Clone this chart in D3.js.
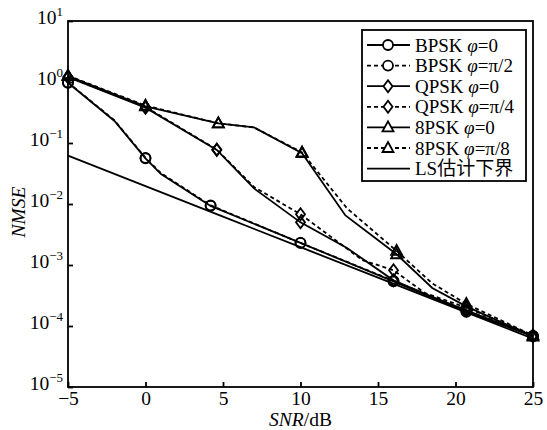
<!DOCTYPE html>
<html>
<head>
<meta charset="utf-8">
<script src="https://cdn.jsdelivr.net/npm/d3@7"></script>
<style>
  html, body { margin: 0; padding: 0; background: #fff; }
  svg { display: block; }
  text { font-family: "Liberation Serif", "Times New Roman", "Noto Sans CJK SC", serif; fill: #000; }
</style>
</head>
<body>
<svg id="chart" width="547" height="430"></svg>
<script>
// SNR grid (dB) and NMSE values for each curve
const snrBPSK0   = [-5, -2, 0, 1, 4.2, 10, 16, 20.7, 25];
const nmseBPSK0  = [0.97, 0.23, 0.056, 0.031, 0.0093, 0.0023, 0.00054, 0.00017, 6.8e-5];
const markBPSK0  = [0, 2, 4, 5, 6, 7, 8];

const snrBPSK90  = [-5, -2, 0, 1, 4.2, 10, 16, 20.7, 25];
const nmseBPSK90 = [0.98, 0.235, 0.057, 0.032, 0.0095, 0.0023, 0.00055, 0.00018, 6.9e-5];
const markBPSK90 = [0, 2, 4, 5, 6, 7, 8];

const snrQPSK0   = [-5, 0, 4.6, 7, 10, 13, 16, 18.5, 20.7, 25];
const nmseQPSK0  = [1.2, 0.38, 0.077, 0.018, 0.0050, 0.0019, 0.00056, 0.0003, 0.00018, 6.8e-5];
const markQPSK0  = [0, 1, 2, 4, 6, 8, 9];

const snrQPSK45  = [-5, 0, 4.6, 7, 10, 14, 16, 18, 20.7, 25];
const nmseQPSK45 = [1.22, 0.39, 0.078, 0.019, 0.0068, 0.0012, 0.00082, 0.00035, 0.0002, 7e-5];
const markQPSK45 = [0, 1, 2, 4, 6, 8, 9];

const snr8PSK0   = [-5, 0, 4.7, 7, 10.1, 12.9, 16.2, 18.5, 20.7, 25];
const nmse8PSK0  = [1.25, 0.40, 0.21, 0.18, 0.068, 0.0065, 0.0015, 0.00042, 0.00021, 6.7e-5];
const mark8PSK0  = [0, 1, 2, 4, 6, 8, 9];

const snr8PSK22  = [-5, 0, 4.7, 7, 10.1, 13, 16.2, 18.5, 20.7, 25];
const nmse8PSK22 = [1.27, 0.41, 0.21, 0.18, 0.070, 0.0085, 0.0017, 0.0005, 0.00023, 7e-5];
const mark8PSK22 = [0, 1, 2, 4, 6, 8, 9];

const snrLS  = [-5, 0, 5, 10, 15, 20, 25];
const nmseLS = [0.062, 0.0196, 0.0062, 0.00196, 0.00062, 0.000196, 0.000062];

// axis ticks
const xTicks = [-5, 0, 5, 10, 15, 20, 25];
const yExponents = [1, 0, -1, -2, -3, -4, -5];

// legend labels: [modulation, phase]
const legendMods   = ["BPSK", "BPSK", "QPSK", "QPSK", "8PSK", "8PSK"];
const legendPhases = ["0", "π/2", "0", "π/4", "0", "π/8"];
const lsLabel = "LS估计下界";

const series = [
  { x: snrBPSK0,  y: nmseBPSK0,  marks: markBPSK0,  shape: "circle",   dashed: false },
  { x: snrBPSK90, y: nmseBPSK90, marks: markBPSK90, shape: "circle",   dashed: true },
  { x: snrQPSK0,  y: nmseQPSK0,  marks: markQPSK0,  shape: "diamond",  dashed: false },
  { x: snrQPSK45, y: nmseQPSK45, marks: markQPSK45, shape: "diamond",  dashed: true },
  { x: snr8PSK0,  y: nmse8PSK0,  marks: mark8PSK0,  shape: "triangle", dashed: false },
  { x: snr8PSK22, y: nmse8PSK22, marks: mark8PSK22, shape: "triangle", dashed: true }
];

const svg = d3.select("#chart");
const plotLeft = 68, plotRight = 533, plotTop = 21, plotBottom = 387;

const x = d3.scaleLinear().domain([-5, 25]).range([plotLeft, plotRight]);
const y = d3.scaleLog().domain([1e-5, 10]).range([plotBottom, plotTop]);

const DASH = "4,3";
const LW = 1.8;

function markerPath(shape) {
  if (shape === "circle") return d3.symbol().type(d3.symbolCircle).size(Math.PI * 25)();
  if (shape === "diamond") return "M0,-6L4.5,0L0,6L-4.5,0Z";
  return "M0,-6L5.5,4L-5.5,4Z";
}

// plot frame
svg.append("rect")
  .attr("x", plotLeft).attr("y", plotTop)
  .attr("width", plotRight - plotLeft).attr("height", plotBottom - plotTop)
  .attr("fill", "none").attr("stroke", "#000").attr("stroke-width", LW);

// bottom axis (inward ticks)
const xAxis = d3.axisBottom(x).tickValues(xTicks).tickSizeInner(-5).tickSizeOuter(0)
  .tickPadding(10).tickFormat(d => d < 0 ? "−" + Math.abs(d) : String(d));
const gx = svg.append("g").attr("transform", `translate(0,${plotBottom})`).call(xAxis);
gx.select(".domain").remove();
gx.selectAll("line").attr("stroke", "#000").attr("stroke-width", LW);
gx.selectAll("text").attr("font-size", 19.5).attr("font-family", "Liberation Serif")
  .attr("dy", null).attr("y", 18);

// left axis (inward ticks), labels as 10^n
const yAxis = d3.axisLeft(y).tickValues(yExponents.map(e => Math.pow(10, e)))
  .tickSizeInner(-5).tickSizeOuter(0).tickFormat("");
const gy = svg.append("g").attr("transform", `translate(${plotLeft},0)`).call(yAxis);
gy.select(".domain").remove();
gy.selectAll("line").attr("stroke", "#000").attr("stroke-width", LW);
yExponents.forEach(e => {
  const t = svg.append("text")
    .attr("x", 63).attr("y", y(Math.pow(10, e)) + 3)
    .attr("text-anchor", "end").attr("font-size", 19.5);
  t.append("tspan").text("10");
  t.append("tspan").attr("font-size", 13).attr("dy", -8)
    .text(e < 0 ? "−" + Math.abs(e) : String(e));
});

// axis titles
const xl = svg.append("text").attr("x", (plotLeft + plotRight) / 2).attr("y", 426)
  .attr("text-anchor", "middle").attr("font-size", 19.5);
xl.append("tspan").attr("font-style", "italic").text("SNR");
xl.append("tspan").text("/dB");

svg.append("text")
  .attr("transform", `translate(25,${(plotTop + plotBottom) / 2 + 8}) rotate(-90)`)
  .attr("text-anchor", "middle").attr("font-size", 19.5).attr("font-style", "italic")
  .text("NMSE");

// curves
const line = d3.line().x(d => x(d[0])).y(d => y(d[1]));
const plot = svg.append("g");

plot.append("path")
  .datum(snrLS.map((s, i) => [s, nmseLS[i]]))
  .attr("d", line).attr("fill", "none")
  .attr("stroke", "#000").attr("stroke-width", LW);

series.forEach(s => {
  const pts = s.x.map((v, i) => [v, s.y[i]]);
  plot.append("path").datum(pts).attr("d", line)
    .attr("fill", "none").attr("stroke", "#000").attr("stroke-width", LW)
    .attr("stroke-dasharray", s.dashed ? DASH : null);
  plot.selectAll(null).data(s.marks.map(i => pts[i])).enter().append("path")
    .attr("d", markerPath(s.shape))
    .attr("transform", d => `translate(${x(d[0])},${y(d[1])})`)
    .attr("fill", "none").attr("stroke", "#000").attr("stroke-width", LW);
});

// legend
const lg = svg.append("g");
lg.append("rect").attr("x", 362).attr("y", 30).attr("width", 164).attr("height", 151)
  .attr("fill", "#fff").attr("stroke", "#000").attr("stroke-width", LW);
const rowY = i => 45 + i * 20.6;
series.forEach((s, i) => {
  const cy = rowY(i);
  lg.append("line").attr("x1", 367).attr("x2", 410).attr("y1", cy).attr("y2", cy)
    .attr("stroke", "#000").attr("stroke-width", LW)
    .attr("stroke-dasharray", s.dashed ? DASH : null);
  lg.append("path").attr("d", markerPath(s.shape))
    .attr("transform", `translate(388,${cy})`)
    .attr("fill", "#fff").attr("stroke", "#000").attr("stroke-width", LW);
  const t = lg.append("text").attr("x", 415).attr("y", cy + 6.5).attr("font-size", 19);
  t.append("tspan").text(legendMods[i] + " ");
  t.append("tspan").attr("font-style", "italic").text("φ");
  t.append("tspan").text("=" + legendPhases[i]);
});
{
  const cy = rowY(6);
  lg.append("line").attr("x1", 367).attr("x2", 410).attr("y1", cy).attr("y2", cy)
    .attr("stroke", "#000").attr("stroke-width", LW);
  lg.append("text").attr("x", 415).attr("y", cy + 6.5).attr("font-size", 19).text(lsLabel);
}
</script>
</body>
</html>
